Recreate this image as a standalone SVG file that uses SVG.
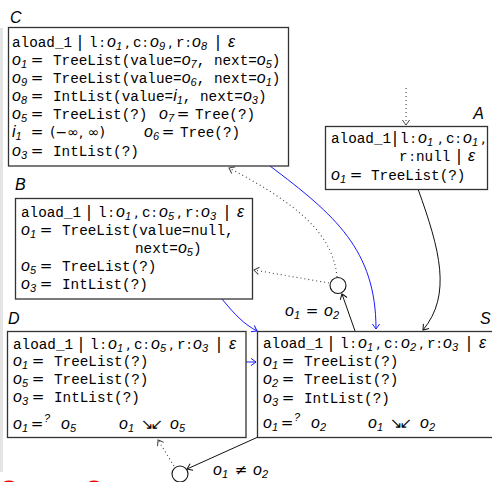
<svg xmlns="http://www.w3.org/2000/svg" width="492" height="482" viewBox="0 0 492 482" xml:space="preserve">
<style>
.tt{font-family:"Liberation Mono",monospace;font-size:14.3px;fill:#000}
.m{font-family:"Liberation Sans",sans-serif;font-style:italic;font-size:16px;fill:#000}
.ms{font-family:"Liberation Sans",sans-serif;font-style:italic;font-size:11px;fill:#000}
.r{font-family:"DejaVu Sans",sans-serif;font-size:14px;fill:#000}
.bar{font-family:"DejaVu Sans",sans-serif;font-size:16px;fill:#000;text-anchor:middle}
.eq{font-family:"DejaVu Sans",sans-serif;font-size:15px;fill:#000;text-anchor:middle}
.c{text-anchor:middle}
.sym{font-family:"DejaVu Sans",sans-serif;font-size:15px;fill:#000;letter-spacing:-3px}
.lbl{font-family:"Liberation Sans",sans-serif;font-style:italic;font-size:16px;fill:#000}
.box{fill:#fff;stroke:#333;stroke-width:1.3}
.blk{fill:none;stroke:#111;stroke-width:1}
.blu{fill:none;stroke:#1a1aff;stroke-width:1}
.dot{fill:none;stroke:#444;stroke-width:1.1;stroke-dasharray:1 3}
.circ{fill:#fff;stroke:#111;stroke-width:1.1}
</style>
<defs>
<marker id="ab" viewBox="-6 -5 7 10" markerWidth="7" markerHeight="10" refX="0" refY="0" orient="auto" markerUnits="userSpaceOnUse"><path d="M-5,-3.6 Q-1.2,-0.9 0,0 Q-1.2,0.9 -5,3.6" fill="none" stroke="#111" stroke-width="1"/></marker>
<marker id="au" viewBox="-6 -5 7 10" markerWidth="7" markerHeight="10" refX="0" refY="0" orient="auto" markerUnits="userSpaceOnUse"><path d="M-5,-3.6 Q-1.2,-0.9 0,0 Q-1.2,0.9 -5,3.6" fill="none" stroke="#1a1aff" stroke-width="1"/></marker>
<marker id="ad" viewBox="-6 -5 7 10" markerWidth="7" markerHeight="10" refX="0" refY="0" orient="auto" markerUnits="userSpaceOnUse"><path d="M-5,-3.6 Q-1.2,-0.9 0,0 Q-1.2,0.9 -5,3.6" fill="none" stroke="#444" stroke-width="1"/></marker>
</defs>
<rect x="0" y="0" width="492" height="482" fill="#fff"/>
<line x1="1.5" y1="28" x2="1.5" y2="472" stroke="#e4e4e4" stroke-width="3"/>
<ellipse cx="9" cy="485" rx="7" ry="4.5" fill="#e00"/>
<ellipse cx="94" cy="485" rx="7" ry="4.5" fill="#e00"/>

<g id="connectors">
<path class="blu" d="M270,166 C335,215 376,250 376,329" marker-end="url(#au)"/>
<path class="blk" d="M418,189 C440,250 452,295 423,330" marker-end="url(#ab)"/>
<path class="blk" d="M355,331 L342,294" marker-end="url(#ab)"/>
<path class="dot" d="M337,277 C333,235 300,205 229,168" marker-end="url(#ad)"/>
<path class="dot" d="M329,283 L254,270" marker-end="url(#ad)"/>
<path class="blu" d="M222,299 C236,316 244,324 257,331" marker-end="url(#au)"/>
<path class="blu" d="M246,362 L256,362" marker-end="url(#au)"/>
<path class="blk" d="M258,437 L187,469" marker-end="url(#ab)"/>
<path class="dot" d="M174,466 L158,440" marker-end="url(#ad)"/>
<path class="dot" d="M406,88 L406,125" marker-end="url(#ad)"/>
<text y="316"><tspan class="m" x="285">o</tspan><tspan class="ms" baseline-shift="-3">1</tspan><tspan class="eq" x="312">=</tspan><tspan class="m" x="324">o</tspan><tspan class="ms" baseline-shift="-3">2</tspan></text>
<text y="475"><tspan class="m" x="213">o</tspan><tspan class="ms" baseline-shift="-3">1</tspan><tspan class="eq" x="241">≠</tspan><tspan class="m" x="253">o</tspan><tspan class="ms" baseline-shift="-3">2</tspan></text>
</g>

<g id="junction1"><circle class="circ" cx="338" cy="285.5" r="8"/></g>
<g id="junction2"><circle class="circ" cx="180" cy="474" r="8"/></g>

<g id="C">
<text class="lbl" x="10" y="23">C</text>
<rect class="box" x="8.5" y="27.5" width="280" height="138.5"/>
<text y="47"><tspan class="tt" x="12">aload_1</tspan><tspan class="bar" x="80">|</tspan><tspan class="tt" x="89">l</tspan><tspan class="r c" x="102">:</tspan><tspan class="m" x="107">o</tspan><tspan class="ms" baseline-shift="-3">1</tspan><tspan class="r" x="125">,</tspan><tspan class="tt" x="133">c</tspan><tspan class="r c" x="145">:</tspan><tspan class="m" x="150">o</tspan><tspan class="ms" baseline-shift="-3">9</tspan><tspan class="r" x="168">,</tspan><tspan class="tt" x="176">r</tspan><tspan class="r c" x="188">:</tspan><tspan class="m" x="192">o</tspan><tspan class="ms" baseline-shift="-3">8</tspan><tspan class="bar" x="218">|</tspan><tspan class="m" x="228">ε</tspan></text>
<text y="65"><tspan class="m" x="12">o</tspan><tspan class="ms" baseline-shift="-3">1</tspan><tspan class="eq" x="37">=</tspan><tspan class="tt" x="53">TreeList(value=</tspan><tspan class="m">o</tspan><tspan class="ms" baseline-shift="-3">7</tspan><tspan class="tt">, next=</tspan><tspan class="m">o</tspan><tspan class="ms" baseline-shift="-3">5</tspan><tspan class="tt">)</tspan></text>
<text y="83"><tspan class="m" x="12">o</tspan><tspan class="ms" baseline-shift="-3">9</tspan><tspan class="eq" x="37">=</tspan><tspan class="tt" x="53">TreeList(value=</tspan><tspan class="m">o</tspan><tspan class="ms" baseline-shift="-3">6</tspan><tspan class="tt">, next=</tspan><tspan class="m">o</tspan><tspan class="ms" baseline-shift="-3">1</tspan><tspan class="tt">)</tspan></text>
<text y="101"><tspan class="m" x="12">o</tspan><tspan class="ms" baseline-shift="-3">8</tspan><tspan class="eq" x="37">=</tspan><tspan class="tt" x="53">IntList(value=</tspan><tspan class="m">i</tspan><tspan class="ms" baseline-shift="-3">1</tspan><tspan class="tt">, next=</tspan><tspan class="m">o</tspan><tspan class="ms" baseline-shift="-3">3</tspan><tspan class="tt">)</tspan></text>
<text y="119"><tspan class="m" x="12">o</tspan><tspan class="ms" baseline-shift="-3">5</tspan><tspan class="eq" x="37">=</tspan><tspan class="tt" x="53">TreeList(?)</tspan><tspan class="m" x="159">o</tspan><tspan class="ms" baseline-shift="-3">7</tspan><tspan class="eq" x="183">=</tspan><tspan class="tt" x="195">Tree(?)</tspan></text>
<text y="137"><tspan class="m" x="12">i</tspan><tspan class="ms" baseline-shift="-3">1</tspan><tspan class="eq" x="37">=</tspan><tspan class="r" x="50">(−∞, ∞)</tspan><tspan class="m" x="144">o</tspan><tspan class="ms" baseline-shift="-3">6</tspan><tspan class="eq" x="168">=</tspan><tspan class="tt" x="180">Tree(?)</tspan></text>
<text y="156"><tspan class="m" x="12">o</tspan><tspan class="ms" baseline-shift="-3">3</tspan><tspan class="eq" x="37">=</tspan><tspan class="tt" x="53">IntList(?)</tspan></text>
</g>

<g id="A">
<text class="lbl" x="484" y="119" text-anchor="end">A</text>
<rect class="box" x="325.5" y="126.5" width="162" height="63"/>
<text y="143"><tspan class="tt" x="331">aload_1</tspan><tspan class="bar" x="395">|</tspan><tspan class="tt" x="400">l</tspan><tspan class="r c" x="413">:</tspan><tspan class="m" x="418">o</tspan><tspan class="ms" baseline-shift="-3">1</tspan><tspan class="r" x="438">,</tspan><tspan class="tt" x="446">c</tspan><tspan class="r c" x="458">:</tspan><tspan class="m" x="463">o</tspan><tspan class="ms" baseline-shift="-3">1</tspan><tspan class="r" x="481">,</tspan></text>
<text y="161"><tspan class="tt" x="399">r</tspan><tspan class="r c" x="412">:</tspan><tspan class="tt" x="416">null</tspan><tspan class="bar" x="459">|</tspan><tspan class="m" x="468">ε</tspan></text>
<text y="180"><tspan class="m" x="331">o</tspan><tspan class="ms" baseline-shift="-3">1</tspan><tspan class="eq" x="356">=</tspan><tspan class="tt" x="371">TreeList(?)</tspan></text>
</g>

<g id="B">
<text class="lbl" x="15" y="190">B</text>
<rect class="box" x="15.5" y="198.5" width="237" height="100.5"/>
<text y="217"><tspan class="tt" x="21">aload_1</tspan><tspan class="bar" x="89">|</tspan><tspan class="tt" x="98">l</tspan><tspan class="r c" x="111">:</tspan><tspan class="m" x="116">o</tspan><tspan class="ms" baseline-shift="-3">1</tspan><tspan class="r" x="134">,</tspan><tspan class="tt" x="142">c</tspan><tspan class="r c" x="154">:</tspan><tspan class="m" x="159">o</tspan><tspan class="ms" baseline-shift="-3">5</tspan><tspan class="r" x="177">,</tspan><tspan class="tt" x="185">r</tspan><tspan class="r c" x="197">:</tspan><tspan class="m" x="201">o</tspan><tspan class="ms" baseline-shift="-3">3</tspan><tspan class="bar" x="227">|</tspan><tspan class="m" x="237">ε</tspan></text>
<text y="235"><tspan class="m" x="21">o</tspan><tspan class="ms" baseline-shift="-3">1</tspan><tspan class="eq" x="46">=</tspan><tspan class="tt" x="62">TreeList(value=null,</tspan></text>
<text y="253"><tspan class="tt" x="135">next=</tspan><tspan class="m">o</tspan><tspan class="ms" baseline-shift="-3">5</tspan><tspan class="tt">)</tspan></text>
<text y="271"><tspan class="m" x="21">o</tspan><tspan class="ms" baseline-shift="-3">5</tspan><tspan class="eq" x="46">=</tspan><tspan class="tt" x="62">TreeList(?)</tspan></text>
<text y="289"><tspan class="m" x="21">o</tspan><tspan class="ms" baseline-shift="-3">3</tspan><tspan class="eq" x="46">=</tspan><tspan class="tt" x="62">IntList(?)</tspan></text>
</g>

<g id="D">
<text class="lbl" x="8" y="324">D</text>
<rect class="box" x="7.5" y="331.5" width="238.5" height="106"/>
<text y="349"><tspan class="tt" x="13">aload_1</tspan><tspan class="bar" x="81">|</tspan><tspan class="tt" x="90">l</tspan><tspan class="r c" x="103">:</tspan><tspan class="m" x="108">o</tspan><tspan class="ms" baseline-shift="-3">1</tspan><tspan class="r" x="126">,</tspan><tspan class="tt" x="134">c</tspan><tspan class="r c" x="146">:</tspan><tspan class="m" x="151">o</tspan><tspan class="ms" baseline-shift="-3">5</tspan><tspan class="r" x="169">,</tspan><tspan class="tt" x="177">r</tspan><tspan class="r c" x="189">:</tspan><tspan class="m" x="193">o</tspan><tspan class="ms" baseline-shift="-3">3</tspan><tspan class="bar" x="219">|</tspan><tspan class="m" x="229">ε</tspan></text>
<text y="366"><tspan class="m" x="13">o</tspan><tspan class="ms" baseline-shift="-3">1</tspan><tspan class="eq" x="38">=</tspan><tspan class="tt" x="54">TreeList(?)</tspan></text>
<text y="384"><tspan class="m" x="13">o</tspan><tspan class="ms" baseline-shift="-3">5</tspan><tspan class="eq" x="38">=</tspan><tspan class="tt" x="54">TreeList(?)</tspan></text>
<text y="402"><tspan class="m" x="13">o</tspan><tspan class="ms" baseline-shift="-3">3</tspan><tspan class="eq" x="38">=</tspan><tspan class="tt" x="54">IntList(?)</tspan></text>
<text y="429"><tspan class="m" x="13">o</tspan><tspan class="ms" baseline-shift="-3">1</tspan><tspan class="eq" x="37">=</tspan><tspan class="ms" x="44" baseline-shift="7">?</tspan><tspan class="m" x="61">o</tspan><tspan class="ms" baseline-shift="-3">5</tspan><tspan class="m" x="119">o</tspan><tspan class="ms" baseline-shift="-3">1</tspan><tspan class="sym" x="141">↘↙</tspan><tspan class="m" x="170">o</tspan><tspan class="ms" baseline-shift="-3">5</tspan></text>
</g>

<g id="S">
<text class="lbl" x="480" y="324">S</text>
<rect class="box" x="257.5" y="331.5" width="240" height="106"/>
<text y="348"><tspan class="tt" x="263">aload_1</tspan><tspan class="bar" x="331">|</tspan><tspan class="tt" x="340">l</tspan><tspan class="r c" x="353">:</tspan><tspan class="m" x="358">o</tspan><tspan class="ms" baseline-shift="-3">1</tspan><tspan class="r" x="376">,</tspan><tspan class="tt" x="384">c</tspan><tspan class="r c" x="396">:</tspan><tspan class="m" x="401">o</tspan><tspan class="ms" baseline-shift="-3">2</tspan><tspan class="r" x="419">,</tspan><tspan class="tt" x="427">r</tspan><tspan class="r c" x="439">:</tspan><tspan class="m" x="443">o</tspan><tspan class="ms" baseline-shift="-3">3</tspan><tspan class="bar" x="469">|</tspan><tspan class="m" x="479">ε</tspan></text>
<text y="366"><tspan class="m" x="263">o</tspan><tspan class="ms" baseline-shift="-3">1</tspan><tspan class="eq" x="288">=</tspan><tspan class="tt" x="304">TreeList(?)</tspan></text>
<text y="384"><tspan class="m" x="263">o</tspan><tspan class="ms" baseline-shift="-3">2</tspan><tspan class="eq" x="288">=</tspan><tspan class="tt" x="304">TreeList(?)</tspan></text>
<text y="403"><tspan class="m" x="263">o</tspan><tspan class="ms" baseline-shift="-3">3</tspan><tspan class="eq" x="288">=</tspan><tspan class="tt" x="304">IntList(?)</tspan></text>
<text y="428"><tspan class="m" x="263">o</tspan><tspan class="ms" baseline-shift="-3">1</tspan><tspan class="eq" x="287">=</tspan><tspan class="ms" x="294" baseline-shift="7">?</tspan><tspan class="m" x="311">o</tspan><tspan class="ms" baseline-shift="-3">2</tspan><tspan class="m" x="368">o</tspan><tspan class="ms" baseline-shift="-3">1</tspan><tspan class="sym" x="390">↘↙</tspan><tspan class="m" x="420">o</tspan><tspan class="ms" baseline-shift="-3">2</tspan></text>
</g>
</svg>
